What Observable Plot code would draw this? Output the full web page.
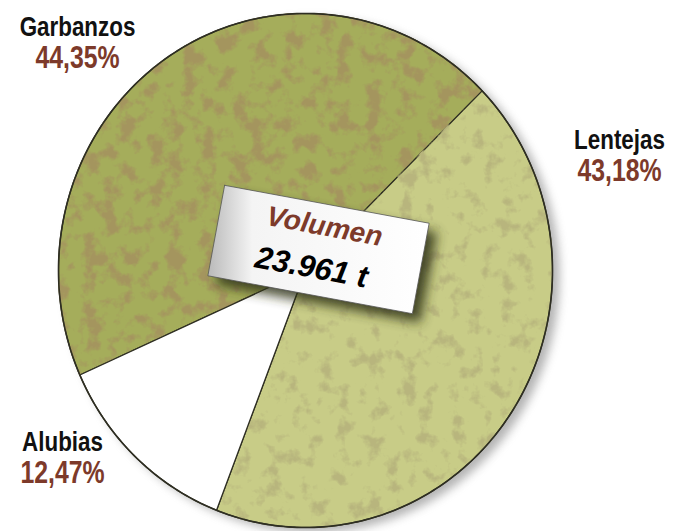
<!DOCTYPE html>
<html><head><meta charset="utf-8">
<script src="https://cdn.jsdelivr.net/npm/d3@7"></script>
<script src="https://cdn.jsdelivr.net/npm/@observablehq/plot@0.6"></script>
<style>html,body{margin:0;padding:0;background:#fff}#chart svg{display:block}</style>
</head><body><div id="chart"></div>
<script>
// ---- data ----
const categories = ["Garbanzos", "Lentejas", "Alubias"];
const shares = [44.35, 43.18, 12.47];
const shareLabels = ["44,35%", "43,18%", "12,47%"];
const totalTitle = "Volumen";
const totalValue = "23.961 t";

// ---- layout ----
const W = 673, H = 531;
const pieCx = 305, pieCy = 270, pieRx = 247, pieRy = 257;
const startDeg = -114;
const sliceColors = ["#a5ad5b", "#c8cc87", "#ffffff"];
const labelAnchors = [[77, 35], [619, 148], [62, 450]];
const pctOffset = 32;
const boxCx = 318, boxCy = 249, boxW = 208, boxH = 92, boxRot = 10.5;
const font = "'Liberation Sans', Arial, sans-serif";
const brown = "#7d3a2a";

const rows = categories.map((c, i) => ({category: c, value: shares[i], label: shareLabels[i], color: sliceColors[i],
  lx: labelAnchors[i][0], ly: labelAnchors[i][1]}));
const a0 = startDeg * Math.PI / 180;
const arcs = d3.pie().sort(null).value(d => d.value).startAngle(a0).endAngle(a0 + 2 * Math.PI)(rows);
const pt = a => ({x: pieCx + pieRx * Math.sin(a), y: pieCy - pieRy * Math.cos(a)});
function slicePolygon(arc) {
  const pts = [{x: pieCx, y: pieCy}];
  const n = Math.max(2, Math.ceil((arc.endAngle - arc.startAngle) / (Math.PI / 360)));
  for (let k = 0; k <= n; k++) pts.push(pt(arc.startAngle + (arc.endAngle - arc.startAngle) * k / n));
  pts.push({x: pieCx, y: pieCy});
  return pts;
}
const rim = d3.range(0, 361, 1).map(d => pt(d * Math.PI / 180));
const shadowRim = rim.map(p => ({x: p.x + 7, y: p.y + 5}));
const rot = boxRot * Math.PI / 180;
const boxPts = [[-1, -1], [1, -1], [1, 1], [-1, 1], [-1, -1]].map(([sx, sy]) => {
  const dx = sx * boxW / 2, dy = sy * boxH / 2;
  return {x: boxCx + dx * Math.cos(rot) - dy * Math.sin(rot), y: boxCy + dx * Math.sin(rot) + dy * Math.cos(rot)};
});
const boxShadow = boxPts.map(p => ({x: p.x + 8, y: p.y + 9}));

const sliceMarks = arcs.map(arc => Plot.line(slicePolygon(arc), {
  x: "x", y: "y", fill: arc.data.color, stroke: "#2e2e22", strokeWidth: 1.3, strokeLinejoin: "round",
  ariaDescription: "slice-" + arc.data.category
}));

const plot = Plot.plot({
  width: W, height: H, margin: 0,
  x: {domain: [0, W], range: [0, W], axis: null},
  y: {domain: [0, H], range: [0, H], axis: null},
  style: {background: "#fff", fontFamily: font},
  marks: [
    Plot.line(shadowRim, {x: "x", y: "y", fill: "#777", stroke: "none", ariaDescription: "pie-shadow"}),
    ...sliceMarks,
    Plot.line(rim, {x: "x", y: "y", stroke: "#2e2e22", strokeWidth: 1.6}),
    Plot.line(boxShadow, {x: "x", y: "y", fill: "#2f3318", stroke: "none", ariaDescription: "box-shadow"}),
    Plot.line(boxPts, {x: "x", y: "y", fill: "url(#paper)", stroke: "#555", strokeWidth: 0.8}),
    Plot.text(rows, {x: "lx", y: "ly", text: "category", fill: "#111", fontSize: 28, fontWeight: "bold", textAnchor: "middle", lineAnchor: "bottom", ariaDescription: "narrow"}),
    Plot.text(rows, {x: "lx", y: d => d.ly + pctOffset, text: "label", fill: brown, fontSize: 31, fontWeight: "bold", textAnchor: "middle", lineAnchor: "bottom", ariaDescription: "narrow"}),
    Plot.text([totalTitle], {x: boxCx + 6, y: boxCy - 23, text: d => d, rotate: boxRot, fill: brown, fontSize: 28, fontWeight: "bold", fontStyle: "italic", textAnchor: "middle", lineAnchor: "middle"}),
    Plot.text([totalValue], {x: boxCx - 7, y: boxCy + 18, text: d => d, rotate: boxRot, fill: "#000", fontSize: 31, fontWeight: "bold", fontStyle: "italic", textAnchor: "middle", lineAnchor: "middle"})
  ]
});

const svg = d3.select(plot);
const defs = svg.insert("defs", ":first-child");
const blur = defs.append("filter").attr("id", "blur").attr("x", "-10%").attr("y", "-10%").attr("width", "120%").attr("height", "120%");
blur.append("feGaussianBlur").attr("stdDeviation", 5);
const blur2 = defs.append("filter").attr("id", "blur2").attr("x", "-20%").attr("y", "-20%").attr("width", "140%").attr("height", "140%");
blur2.append("feGaussianBlur").attr("stdDeviation", 6);
const g = defs.append("linearGradient").attr("id", "paper").attr("x1", "0").attr("y1", "0").attr("x2", "1").attr("y2", "0");
g.append("stop").attr("offset", "0").attr("stop-color", "#b9b9b9");
g.append("stop").attr("offset", "0.2").attr("stop-color", "#f4f4f4");
g.append("stop").attr("offset", "1").attr("stop-color", "#ffffff");
function mottleFilter(id, rgb, k, b, seed) {
  const f = defs.append("filter").attr("id", id).attr("x", "0").attr("y", "0").attr("width", "100%").attr("height", "100%")
    .attr("color-interpolation-filters", "sRGB");
  f.append("feTurbulence").attr("type", "fractalNoise").attr("baseFrequency", "0.06").attr("numOctaves", 4).attr("seed", seed).attr("result", "noise");
  f.append("feColorMatrix").attr("in", "noise").attr("type", "matrix")
    .attr("values", `0 0 0 0 ${rgb[0]}  0 0 0 0 ${rgb[1]}  0 0 0 0 ${rgb[2]}  0 0 0 ${k} ${b}`).attr("result", "spots");
  f.append("feComposite").attr("in", "spots").attr("in2", "SourceGraphic").attr("operator", "in").attr("result", "clip");
  const m = f.append("feMerge");
  m.append("feMergeNode").attr("in", "SourceGraphic");
  m.append("feMergeNode").attr("in", "clip");
}
mottleFilter("mottleG", [0.645, 0.585, 0.37], 5, -2.4, 4);
mottleFilter("mottleL", [0.72, 0.71, 0.49], 5, -2.7, 9);
svg.select('g[aria-description="pie-shadow"]').attr("filter", "url(#blur)").attr("opacity", 0.55);
svg.select('g[aria-description="box-shadow"]').attr("filter", "url(#blur2)").attr("opacity", 0.85);
svg.select('g[aria-description="slice-Garbanzos"]').attr("filter", "url(#mottleG)");
svg.select('g[aria-description="slice-Lentejas"]').attr("filter", "url(#mottleL)");
document.getElementById("chart").appendChild(plot);
// condense label type horizontally (the original uses a narrow gothic face)
svg.selectAll('g[aria-description="narrow"] text').each(function() {
  const t = d3.select(this);
  t.attr("transform", (t.attr("transform") || "") + " scale(0.8,1)");
});
</script></body></html>
